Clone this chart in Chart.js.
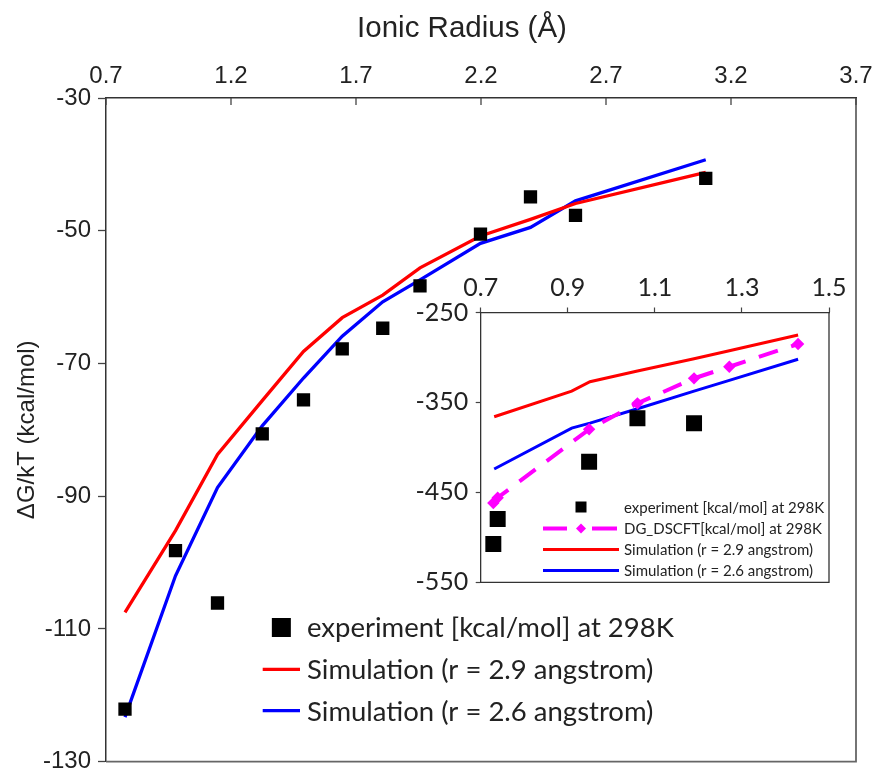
<!DOCTYPE html>
<html><head><meta charset="utf-8">
<script src="https://cdn.jsdelivr.net/npm/chart.js@4.4.1/dist/chart.umd.min.js"></script>
<style>
html,body{margin:0;padding:0;background:#fff;}
#wrap{position:relative;width:874px;height:771px;overflow:hidden;background:#fff;}
#main{position:absolute;left:0;top:0;}
#inset{position:absolute;left:400px;top:260px;}
</style></head><body>
<div id="wrap">
<canvas id="main" width="874" height="771"></canvas>
<canvas id="inset" width="450" height="340"></canvas>
</div>
<script>
// ---------- main chart data ----------
const ionicRadius = [0.776, 0.978, 1.146, 1.325, 1.490, 1.645, 1.807, 1.956, 2.198, 2.398, 2.578, 3.099];
const experimentKT = [-122.1, -98.2, -106.1, -80.6, -75.5, -67.8, -64.7, -58.3, -50.5, -44.9, -47.7, -42.1];
const simR29 = [-107.5, -95.2, -83.7, -75.6, -68.2, -63.1, -59.7, -55.6, -50.8, -48.3, -45.9, -41.2];
const simR26 = [-123.3, -102.0, -88.7, -79.4, -72.2, -65.9, -60.7, -57.4, -51.9, -49.5, -45.5, -39.3];
const mainXTicks = [0.7, 1.2, 1.7, 2.2, 2.7, 3.2, 3.7];
const mainXTickLabels = ['0.7', '1.2', '1.7', '2.2', '2.7', '3.2', '3.7'];
const mainYTicks = [-30, -50, -70, -90, -110, -130];
const mainYTickLabels = ['-30', '-50', '-70', '-90', '-110', '-130'];

// ---------- inset data ----------
const insetExpX = [0.729, 0.739, 0.949, 1.060, 1.190];
const insetExp = [-507.4, -479.6, -415.9, -367.6, -373.2];
const insetDftX = [0.729, 0.739, 0.949, 1.060, 1.190, 1.271, 1.429];
const insetDft = [-461.8, -456.0, -379.9, -351.0, -323.2, -310.3, -285.0];
const insetSimX = [0.731, 0.909, 0.951, 1.060, 1.190, 1.271, 1.429];
const insetSimR29 = [-365.9, -337.5, -327.0, -315.0, -301.5, -292.5, -275.0];
const insetSimR26 = [-424.0, -378.5, -373.0, -357.0, -337.5, -325.5, -302.0];
const insetXTicks = [0.7, 0.9, 1.1, 1.3, 1.5];
const insetXTickLabels = ['0.7', '0.9', '1.1', '1.3', '1.5'];
const insetYTicks = [-250, -350, -450, -550];
const insetYTickLabels = ['-250', '-350', '-450', '-550'];

const pts = (xs, ys) => xs.map((x, i) => ({x: x, y: ys[i]}));

const ARIAL = '"Liberation Sans", Arial, sans-serif';
const CALIBRI = 'Lato, "Open Sans", sans-serif';
const TEXT = '#222';

// frame plugin: right & bottom borders
const framePlugin = (color, width, fillWhite) => ({
  id: 'frame',
  beforeDraw(chart) {
    if (!fillWhite) return;
    const a = chart.chartArea, ctx = chart.ctx;
    ctx.save(); ctx.fillStyle = '#fff';
    ctx.fillRect(a.left, a.top, a.right - a.left, a.bottom - a.top);
    ctx.restore();
  },
  afterDraw(chart) {
    const a = chart.chartArea, ctx = chart.ctx;
    ctx.save(); ctx.strokeStyle = color; ctx.lineWidth = width;
    ctx.beginPath();
    ctx.moveTo(a.right, a.top); ctx.lineTo(a.right, a.bottom); ctx.lineTo(a.left, a.bottom);
    ctx.stroke(); ctx.restore();
  }
});

// legend plugin drawn from the datasets
const legendPlugin = (cfg) => ({
  id: 'customLegend',
  afterDraw(chart) {
    const ctx = chart.ctx;
    ctx.save();
    ctx.font = cfg.font;
    ctx.textBaseline = 'middle'; ctx.textAlign = 'left';
    chart.data.datasets.forEach((ds, i) => {
      const y = cfg.rows[i];
      const cx = (cfg.x0 + cfg.x1) / 2;
      if (!ds.showLine) {
        ctx.fillStyle = ds.backgroundColor;
        ctx.fillRect(cx - cfg.square / 2, y - cfg.square / 2, cfg.square, cfg.square);
      } else if (ds.borderDash && ds.borderDash.length) {
        ctx.strokeStyle = ds.borderColor; ctx.lineWidth = ds.borderWidth;
        ctx.beginPath();
        ctx.moveTo(cfg.x0, y); ctx.lineTo(cx - 14, y);
        ctx.moveTo(cx + 11, y); ctx.lineTo(cfg.x1 - 2, y);
        ctx.stroke();
        ctx.fillStyle = ds.pointBackgroundColor;
        const r = cfg.diamond;
        ctx.beginPath();
        ctx.moveTo(cx, y - r); ctx.lineTo(cx + r, y); ctx.lineTo(cx, y + r); ctx.lineTo(cx - r, y);
        ctx.closePath(); ctx.fill();
      } else {
        ctx.strokeStyle = ds.borderColor; ctx.lineWidth = ds.borderWidth;
        ctx.beginPath(); ctx.moveTo(cfg.x0, y); ctx.lineTo(cfg.x1, y); ctx.stroke();
      }
      ctx.fillStyle = TEXT;
      ctx.fillText(ds.label, cfg.textX, y + 1);
    });
    ctx.restore();
  }
});

// inward ticks on the top axis of the main chart + offset title
const mainExtras = {
  id: 'mainExtras',
  afterDraw(chart) {
    const ctx = chart.ctx, s = chart.scales.x, a = chart.chartArea;
    ctx.save();
    ctx.strokeStyle = '#444'; ctx.lineWidth = 1.3;
    mainXTicks.forEach(v => {
      const px = s.getPixelForValue(v);
      ctx.beginPath(); ctx.moveTo(px, a.top); ctx.lineTo(px, a.top + 7); ctx.stroke();
    });
    ctx.fillStyle = TEXT;
    ctx.font = '29.5px ' + ARIAL;
    ctx.textAlign = 'center'; ctx.textBaseline = 'middle';
    ctx.fillText('Ionic Radius (Å)', 462, 29);
    ctx.restore();
  }
};

new Chart(document.getElementById('main'), {
  type: 'scatter',
  data: {
    datasets: [
      {label: 'experiment [kcal/mol] at 298K', data: pts(ionicRadius, experimentKT), showLine: false,
       pointStyle: 'rect', pointRadius: 9.4, backgroundColor: '#000', borderColor: '#000', pointBorderWidth: 0},
      {label: 'Simulation (r = 2.9 angstrom)', data: pts(ionicRadius, simR29), showLine: true,
       borderColor: '#ff0000', backgroundColor: '#ff0000', borderWidth: 3.3, pointRadius: 0, tension: 0},
      {label: 'Simulation (r = 2.6 angstrom)', data: pts(ionicRadius, simR26), showLine: true,
       borderColor: '#0000ff', backgroundColor: '#0000ff', borderWidth: 3.3, pointRadius: 0, tension: 0}
    ]
  },
  options: {
    responsive: false, animation: false, devicePixelRatio: 1,
    layout: {padding: {left: 0, top: 0, right: 18, bottom: 8}},
    plugins: {legend: {display: false}, tooltip: {enabled: false}},
    scales: {
      x: {
        type: 'linear', position: 'top', min: 0.7, max: 3.7,
        afterBuildTicks: s => { s.ticks = mainXTicks.map(v => ({value: v})); },
        afterFit: s => { s.height = 98; s.paddingLeft = 0; s.paddingRight = 0; },
        ticks: {autoSkip: false, maxRotation: 0, padding: 7, color: TEXT,
                font: {family: ARIAL, size: 24}, callback: (v, i) => mainXTickLabels[i]},
        grid: {display: false, drawOnChartArea: false, drawTicks: false},
        border: {display: true, color: '#333', width: 1.5},
        title: {display: false}
      },
      y: {
        type: 'linear', min: -130, max: -30,
        afterBuildTicks: s => { s.ticks = mainYTicks.map(v => ({value: v})); },
        afterFit: s => { s.width = 106; s.paddingTop = 0; s.paddingBottom = 0; },
        ticks: {autoSkip: false, padding: 7, color: TEXT,
                font: {family: ARIAL, size: 24}, callback: (v, i) => mainYTickLabels[i]},
        grid: {display: true, drawOnChartArea: false, drawTicks: true, tickLength: 8, color: '#444', tickWidth: 1.3},
        border: {display: true, color: '#333', width: 1.5},
        title: {display: true, text: 'ΔG/kT (kcal/mol)', color: TEXT,
                font: {family: ARIAL, size: 24}, padding: {top: 13, bottom: 0}}
      }
    }
  },
  plugins: [framePlugin('#666', 1.8, false), mainExtras,
    legendPlugin({x0: 262.7, x1: 300, textX: 307, rows: [627.5, 669.3, 710.7],
                  font: '27.5px ' + CALIBRI, square: 19, diamond: 6})]
});

new Chart(document.getElementById('inset'), {
  type: 'scatter',
  data: {
    datasets: [
      {label: 'experiment [kcal/mol] at 298K', data: pts(insetExpX, insetExp), showLine: false,
       pointStyle: 'rect', pointRadius: 11.3, backgroundColor: '#000', borderColor: '#000', pointBorderWidth: 0},
      {label: 'DG_DSCFT[kcal/mol] at 298K', data: pts(insetDftX, insetDft), showLine: true,
       borderColor: '#ff00ff', backgroundColor: '#ff00ff', borderWidth: 4, borderDash: [20, 14],
       pointStyle: 'rectRot', pointRadius: 6.2, pointBackgroundColor: '#ff00ff', pointBorderWidth: 0, tension: 0},
      {label: 'Simulation (r = 2.9 angstrom)', data: pts(insetSimX, insetSimR29), showLine: true,
       borderColor: '#ff0000', backgroundColor: '#ff0000', borderWidth: 3, pointRadius: 0, tension: 0},
      {label: 'Simulation (r = 2.6 angstrom)', data: pts(insetSimX, insetSimR26), showLine: true,
       borderColor: '#0000ff', backgroundColor: '#0000ff', borderWidth: 3, pointRadius: 0, tension: 0}
    ]
  },
  options: {
    responsive: false, animation: false, devicePixelRatio: 1,
    layout: {padding: {left: 0, top: 0, right: 21, bottom: 17.7}},
    plugins: {legend: {display: false}, tooltip: {enabled: false}},
    scales: {
      x: {
        type: 'linear', position: 'top', min: 0.7, max: 1.5,
        afterBuildTicks: s => { s.ticks = insetXTicks.map(v => ({value: v})); },
        afterFit: s => { s.height = 52.5; s.paddingLeft = 0; s.paddingRight = 0; },
        ticks: {autoSkip: false, maxRotation: 0, padding: 5, color: TEXT,
                font: {family: CALIBRI, size: 25}, callback: (v, i) => insetXTickLabels[i]},
        grid: {display: true, drawOnChartArea: false, drawTicks: true, tickLength: 5, color: '#444', tickWidth: 1.2},
        border: {display: true, color: '#333', width: 1.3}
      },
      y: {
        type: 'linear', min: -550, max: -250,
        afterBuildTicks: s => { s.ticks = insetYTicks.map(v => ({value: v})); },
        afterFit: s => { s.width = 80.7; s.paddingTop = 0; s.paddingBottom = 0; },
        ticks: {autoSkip: false, padding: 7.5, color: TEXT,
                font: {family: CALIBRI, size: 25}, callback: (v, i) => insetYTickLabels[i]},
        grid: {display: true, drawOnChartArea: false, drawTicks: true, tickLength: 5, color: '#444', tickWidth: 1.2},
        border: {display: true, color: '#333', width: 1.3}
      }
    }
  },
  plugins: [framePlugin('#333', 1.3, true),
    legendPlugin({x0: 143, x1: 219, textX: 224, rows: [247, 268.5, 289.5, 310.5],
                  font: '15px ' + CALIBRI, square: 11, diamond: 5})]
});
</script>
</body></html>
